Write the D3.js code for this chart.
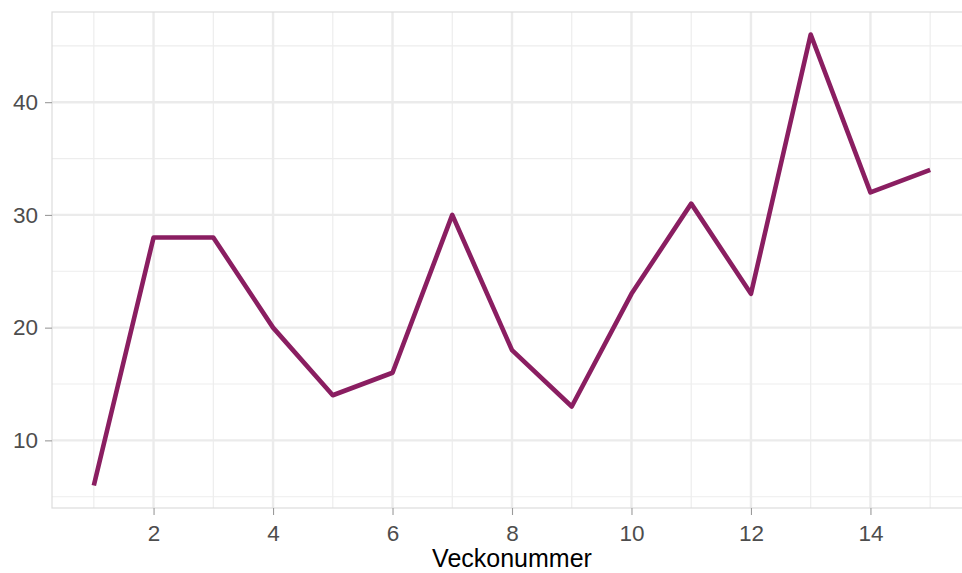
<!DOCTYPE html>
<html>
<head>
<meta charset="utf-8">
<script src="https://cdn.jsdelivr.net/npm/d3@7"></script>
<style>
  body { margin: 0; background: #fff; }
  svg { display: block; font-family: Arial, "Liberation Sans", sans-serif; }
</style>
</head>
<body>
<svg id="chart" width="962" height="573"></svg>
<script>
const weeks = [1, 2, 3, 4, 5, 6, 7, 8, 9, 10, 11, 12, 13, 14, 15];
const counts = [6, 28, 28, 20, 14, 16, 30, 18, 13, 23, 31, 23, 46, 32, 34];
const xTicks = [2, 4, 6, 8, 10, 12, 14];
const xMinor = [1, 3, 5, 7, 9, 11, 13, 15];
const yTicks = [10, 20, 30, 40];
const yMinor = [5, 15, 25, 35, 45];

const svg = d3.select('#chart');
const panelLeft = 52, panelRight = 972, panelTop = 12, panelBottom = 508;

const x = d3.scaleLinear().domain([0.3, 15.7]).range([panelLeft, panelRight]);
const y = d3.scaleLinear().domain([4, 48]).range([panelBottom, panelTop]);

const grid = svg.append('g');
grid.selectAll('.ymin').data(yMinor).enter().append('line')
  .attr('x1', panelLeft).attr('x2', panelRight)
  .attr('y1', d => y(d)).attr('y2', d => y(d))
  .style('stroke', '#ededed').style('stroke-width', 1.2);
grid.selectAll('.xmin').data(xMinor).enter().append('line')
  .attr('y1', panelTop).attr('y2', panelBottom)
  .attr('x1', d => x(d)).attr('x2', d => x(d))
  .style('stroke', '#ededed').style('stroke-width', 1.2);
grid.selectAll('.ymaj').data(yTicks).enter().append('line')
  .attr('x1', panelLeft).attr('x2', panelRight)
  .attr('y1', d => y(d)).attr('y2', d => y(d))
  .style('stroke', '#ebebeb').style('stroke-width', 2.4);
grid.selectAll('.xmaj').data(xTicks).enter().append('line')
  .attr('y1', panelTop).attr('y2', panelBottom)
  .attr('x1', d => x(d)).attr('x2', d => x(d))
  .style('stroke', '#ebebeb').style('stroke-width', 2.4);

// panel border
svg.append('rect')
  .attr('x', panelLeft).attr('y', panelTop)
  .attr('width', panelRight - panelLeft).attr('height', panelBottom - panelTop)
  .style('fill', 'none').style('stroke', '#dcdcdc').style('stroke-width', 1.2);

const xAxis = svg.append('g')
  .attr('transform', `translate(0, ${panelBottom})`)
  .call(d3.axisBottom(x).tickValues(xTicks).tickSize(7).tickPadding(10).tickFormat(d3.format('d')));
const yAxis = svg.append('g')
  .attr('transform', `translate(${panelLeft}, 0)`)
  .call(d3.axisLeft(y).tickValues(yTicks).tickSize(7).tickPadding(7));

[xAxis, yAxis].forEach(a => {
  a.select('.domain').remove();
  a.selectAll('.tick line').style('stroke', '#9a9a9a').style('stroke-width', 1.1);
  a.selectAll('.tick text').style('fill', '#4d4d4d').style('font-size', '22.5px')
    .style('font-family', 'Arial, "Liberation Sans", sans-serif');
});

svg.append('text')
  .attr('x', (panelLeft + panelRight) / 2)
  .attr('y', 567)
  .attr('text-anchor', 'middle')
  .style('font-size', '25px')
  .style('fill', '#000')
  .text('Veckonummer');

const line = d3.line()
  .x((d, i) => x(weeks[i]))
  .y(d => y(d));

svg.append('path')
  .datum(counts)
  .attr('d', line)
  .style('fill', 'none')
  .style('stroke', '#8a1e61')
  .style('stroke-width', 4.6)
  .style('stroke-linejoin', 'round');
</script>
</body>
</html>
